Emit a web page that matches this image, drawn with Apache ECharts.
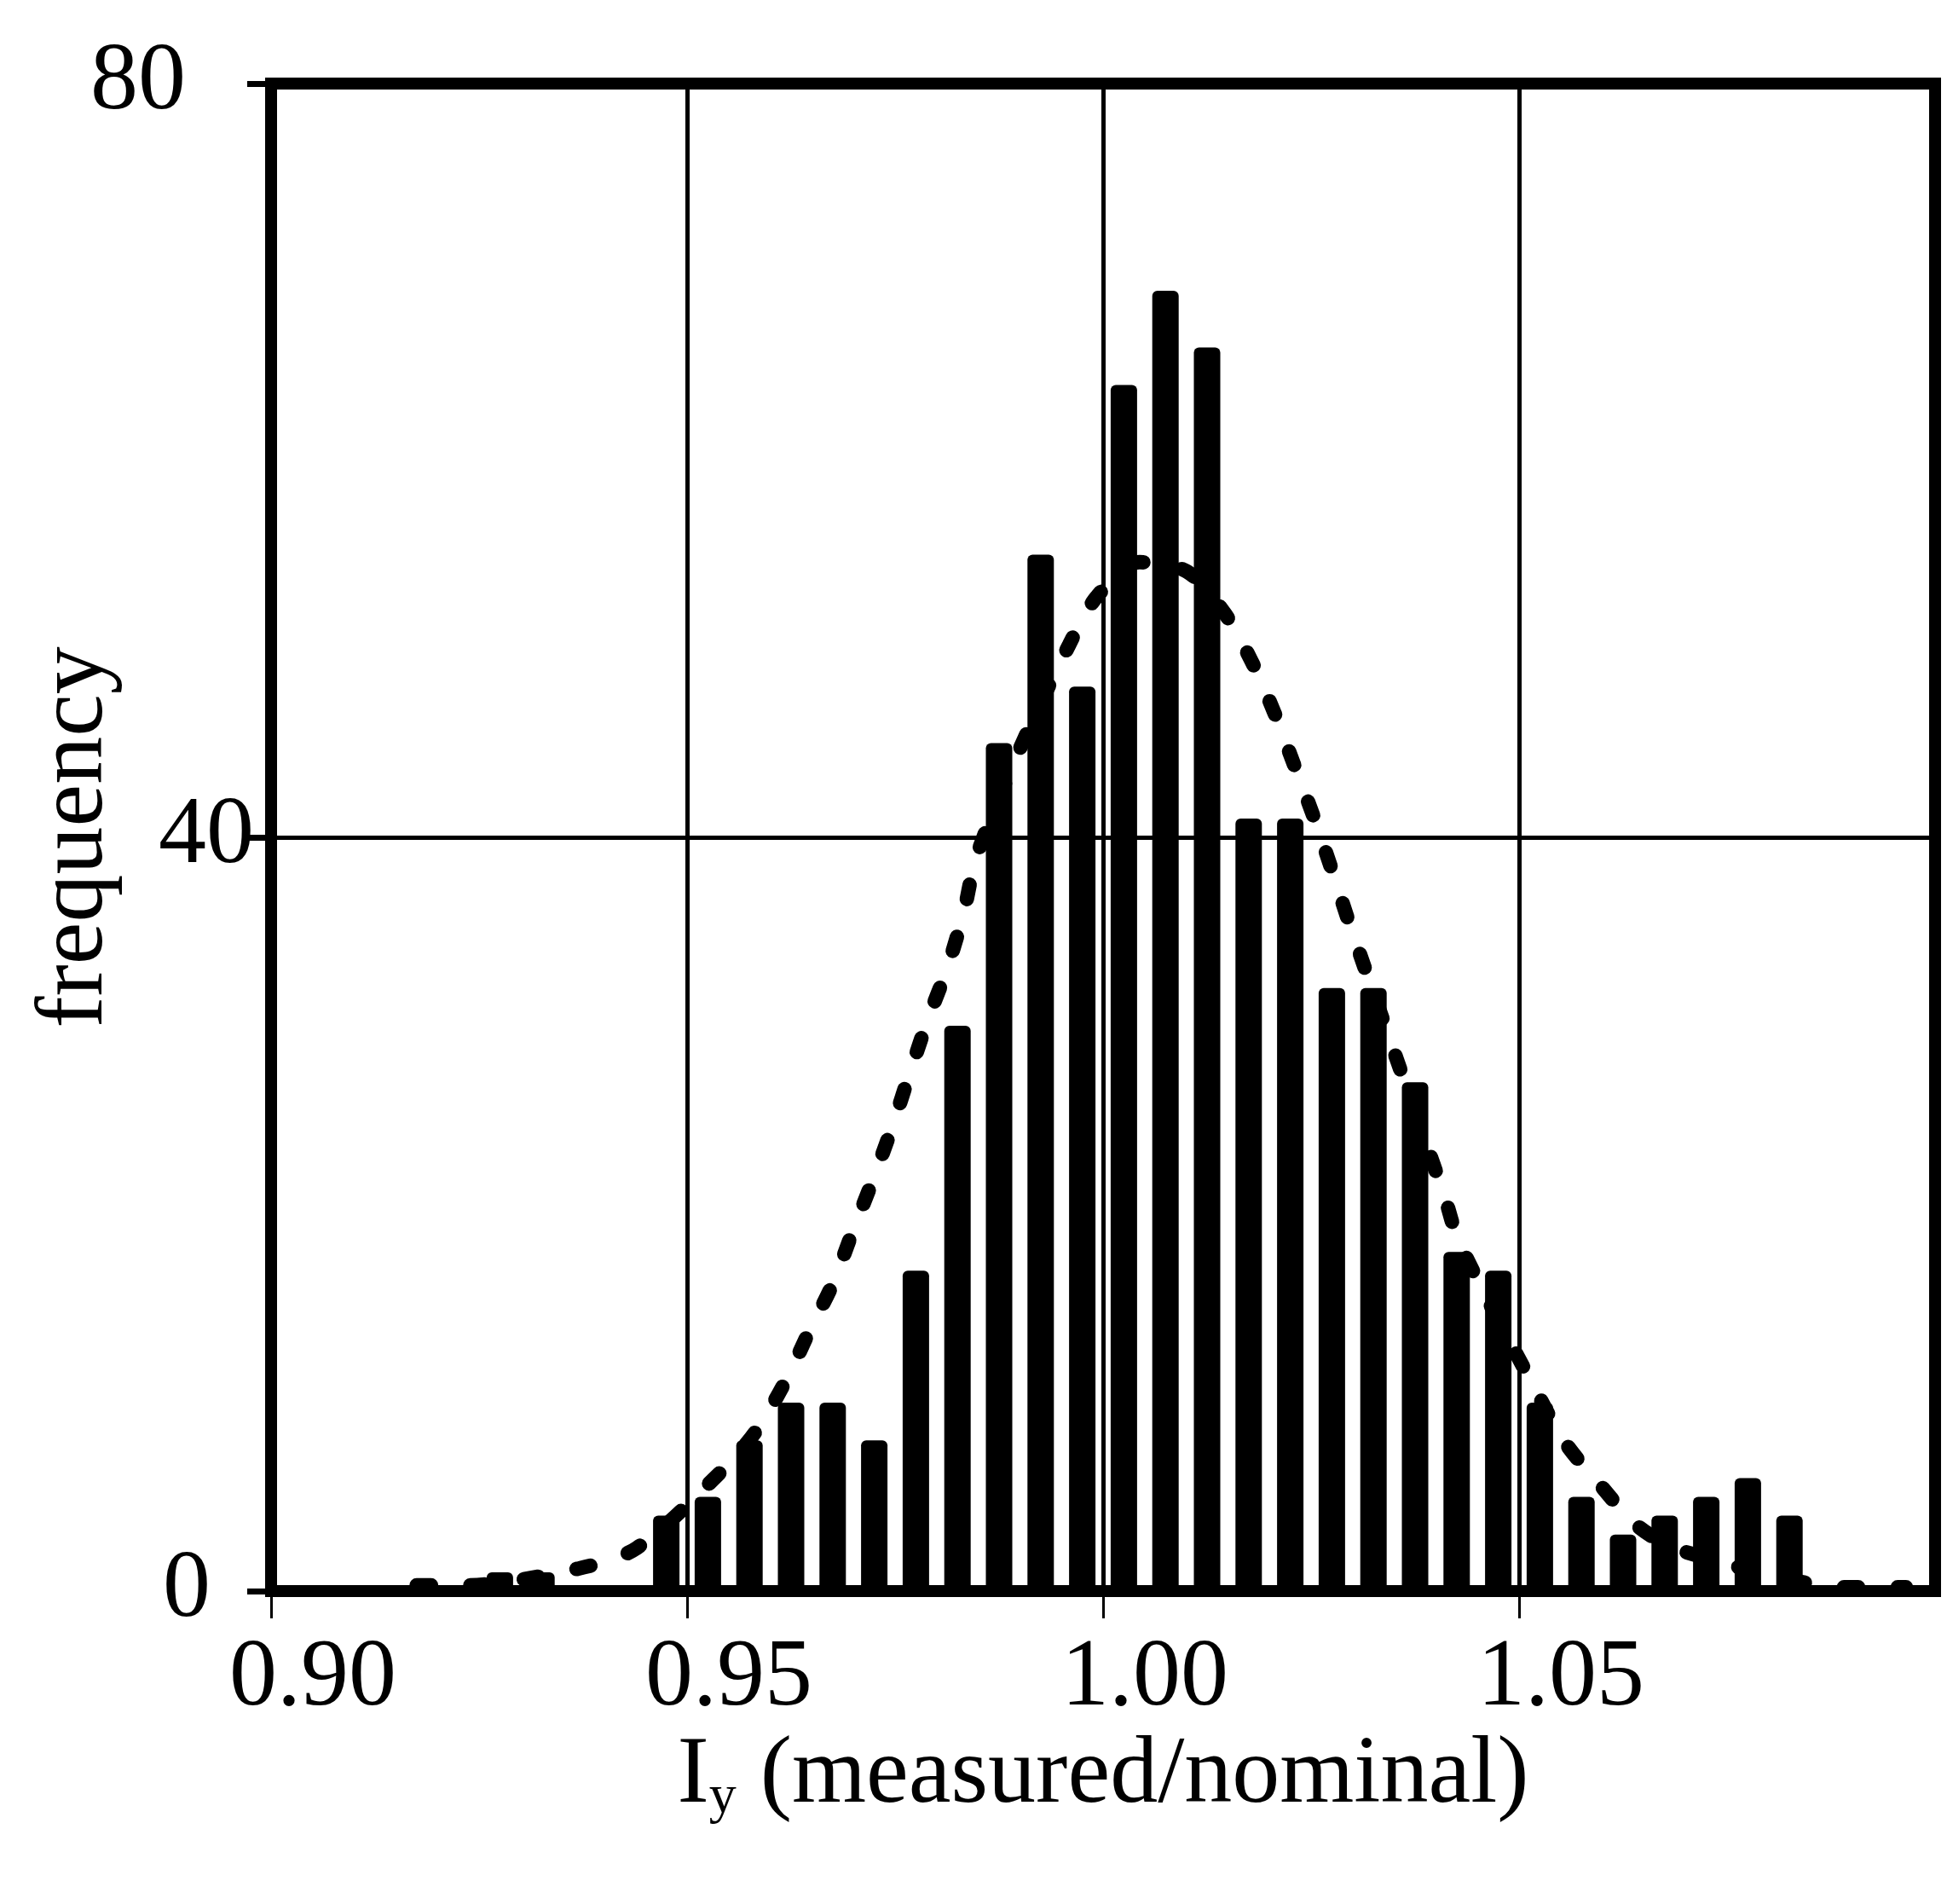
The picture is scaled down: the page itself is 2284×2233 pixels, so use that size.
<!DOCTYPE html>
<html><head><meta charset="utf-8">
<script src="https://cdn.jsdelivr.net/npm/echarts@6/dist/echarts.min.js"></script>
<style>html,body{margin:0;padding:0;background:#fff}#c{width:2284px;height:2233px}</style>
</head><body><div id="c"></div>
<script>
// histogram bins (centre of each 0.005-wide bin) and counts
const binCenters = [0.9275,0.9325,0.9475,0.9525,0.9575,0.9625,0.9675,0.9725,0.9775,0.9825,
  0.9875,0.9925,0.9975,1.0025,1.0075,1.0125,1.0175,1.0225,1.0275,1.0325,
  1.0375,1.0425,1.0475,1.0525,1.0575,1.0625,1.0675,1.0725,1.0775,1.0825];
const frequencies = [1,1,4,5,8,10,10,8,17,30,45,55,48,64,69,66,41,41,32,32,27,18,17,10,5,3,4,5,6,4];
// dotted fitted curve
const fitX = [0.9175,0.923,0.937,0.944,0.954,0.9583,0.9619,0.9647,0.9675,0.970,0.9724,0.9747,0.9767,0.979,
  0.9813,0.9833,0.9848,0.9899,0.9959,0.9993,1.0044,1.0101,1.0146,1.0179,1.0206,1.0230,1.0253,1.0277,
  1.0297,1.041,1.0429,1.0522,1.0555,1.0598,1.0644,1.0698,1.090,1.0965];
const fitY = [0.3,0.3,1.2,2.3,6.3,8.5,11.2,13.8,16.3,19.2,21.9,24.7,27.4,30.4,
  33.1,36.1,39.0,44.6,50.2,52.8,54.6,54.1,51.9,49.3,46.6,43.8,41.1,38.0,
  35.3,21.0,18.4,10.5,7.9,5.6,3.4,2.1,0.2,0.2];
const xTickValues = [0.90,0.95,1.00,1.05];
const xTickLabels = ['0.90','0.95','1.00','1.05'];
const yTickLabels = {0:'0',40:'40',80:'80'};
const xName = ['I','y',' (measured/nominal)'];
const yName = 'frequency';

const FONT = "'Liberation Serif','Times New Roman',serif";
const FS = 112;
const chart = echarts.init(document.getElementById('c'), null, {renderer:'canvas'});
const barData = binCenters.map((x,i)=>[x, frequencies[i]]);
const lineData = fitX.map((x,i)=>[x, fitY[i]]);

chart.setOption({
  backgroundColor:'#fff',
  animation:false,
  grid:{left:318,right:14,top:98,bottom:367,show:true,borderColor:'#000',borderWidth:14,
        backgroundColor:'transparent',outerBoundsMode:'none',containLabel:false},
  xAxis:{type:'value',min:0.9,max:1.1,interval:0.05,
    name:'{i|'+xName[0]+'}{s|'+xName[1]+'}{t|'+xName[2]+'}',
    nameLocation:'middle',nameGap:162,nameMoveOverlap:false,
    nameTextStyle:{color:'#000',fontFamily:FONT,fontSize:FS,
      rich:{
        i:{fontFamily:FONT,fontSize:FS,lineHeight:112,verticalAlign:'top',color:'#000'},
        t:{fontFamily:FONT,fontSize:FS,lineHeight:112,verticalAlign:'top',color:'#000'},
        s:{fontFamily:FONT,fontSize:64,lineHeight:62,padding:[52,0,0,0],verticalAlign:'bottom',color:'#000'}
      }},
    axisLine:{show:false},
    axisTick:{show:true,length:32,customValues:xTickValues,lineStyle:{color:'#000',width:3}},
    axisLabel:{margin:48,color:'#000',fontFamily:FONT,fontSize:FS,customValues:xTickValues,
      formatter:function(v){const k=Math.round((v-0.9)/0.05);const s=xTickLabels[k];return s?('{a|'+s+'}'):'';},
      rich:{a:{fontFamily:FONT,fontSize:FS,lineHeight:112,color:'#000',padding:[0,0,0,98]}}},
    splitLine:{show:true,lineStyle:{color:'#000',width:5}}
  },
  yAxis:{type:'value',min:0,max:80,interval:40,
    name:yName,nameLocation:'middle',nameGap:172,nameRotate:90,nameMoveOverlap:false,
    nameTextStyle:{color:'#000',fontFamily:FONT,fontSize:FS},
    axisLine:{show:false},
    axisTick:{show:true,length:28,lineStyle:{color:'#000',width:7}},
    axisLabel:{margin:8,color:'#000',fontFamily:FONT,fontSize:FS,
      formatter:function(v){const s=yTickLabels[Math.round(v)];return s===undefined?'':('{p'+s+'|'+s+'}');},
      rich:{
        p80:{fontFamily:FONT,fontSize:FS,color:'#000',padding:[0,92,0,0]},
        p40:{fontFamily:FONT,fontSize:FS,color:'#000',padding:[0,12,0,0]},
        p0:{fontFamily:FONT,fontSize:FS,color:'#000',padding:[0,63,0,0]}
      }},
    splitLine:{show:true,lineStyle:{color:'#000',width:5}}
  },
  series:[
    {type:'bar',data:barData,barWidth:31,itemStyle:{color:'#000',borderRadius:[6,6,0,0]},z:3},
    {type:'line',data:lineData,smooth:0.3,symbol:'none',z:4,
      lineStyle:{color:'#000',width:17,type:[17,46],cap:'round'}}
  ]
});
</script></body></html>
